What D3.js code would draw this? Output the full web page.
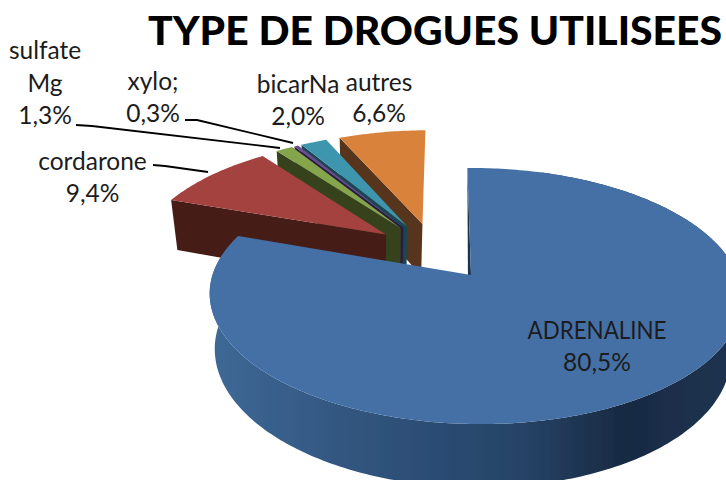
<!DOCTYPE html>
<html><head><meta charset="utf-8">
<script src="https://cdn.jsdelivr.net/npm/d3@7"></script>
<style>html,body{margin:0;padding:0;background:#fff;overflow:hidden}svg{display:block}text{font-family:Lato,"Open Sans",sans-serif;fill:#1c1c1c}</style>
</head><body><div id="c"></div>
<script>
const title = "TYPE DE DROGUES UTILISEES";
const categories = ["ADRENALINE","cordarone","sulfate Mg","xylo;","bicarNa","autres"];
const values = [80.5,9.4,1.3,0.3,2.0,6.6];
const topColors = ["#4470a6","#a4423f","#84a549","#6b4d8f","#3d96ae","#d9823a"];
const wallColors = ["#1c3350","#451a17","#36421d","#2b1f3f","#1a4552","#57341a"];

const W=726,H=480;
const svg=d3.select("#c").append("svg").attr("width",W).attr("height",H);
const defs=svg.append("defs");
defs.append("filter").attr("id","soft").append("feGaussianBlur").attr("stdDeviation",0.45);
const grad=defs.append("linearGradient").attr("id","wall").attr("gradientUnits","userSpaceOnUse")
  .attr("x1",215).attr("x2",726).attr("y1",0).attr("y2",0);
[[0,"#3e6896"],[0.3,"#30537c"],[0.6,"#264367"],[0.8,"#182a42"],[1,"#1d3350"]]
  .forEach(s=>grad.append("stop").attr("offset",s[0]).attr("stop-color",s[1]));

// perspective projection of the pie's plane
const cam={cx:471,cy:275,vp:445,A:262,B:124.6,k:0.164,m:0.015,depth:55,depthPow:0.8,shrink:0.97,vx:379,explode:0.245};
function project(u,v,low){
  const w=1-cam.k*v-cam.m*u;
  const x=cam.vp+(cam.A*u+cam.cx-cam.vp)/w, y=cam.cy+cam.B*v/w;
  if(!low) return [x,y];
  return [cam.vx+cam.shrink*(x-cam.vx), y+cam.depth/Math.pow(w,cam.depthPow)];
}
const pie=d3.pie().sort(null).value(d=>d)(values);
const line=d3.line();
const blueMid=(pie[0].startAngle+pie[0].endAngle)/2;
const origin=[-cam.explode*Math.sin(blueMid),cam.explode*Math.cos(blueMid)];
function slicePts(d){
  const mid=(d.startAngle+d.endAngle)/2;
  const c=[origin[0]+cam.explode*Math.sin(mid),origin[1]-cam.explode*Math.cos(mid)];
  const n=Math.max(4,Math.ceil((d.endAngle-d.startAngle)*60));
  const rim=d3.range(n+1).map(i=>{
    const a=d.startAngle+(d.endAngle-d.startAngle)*i/n;
    return [c[0]+Math.sin(a),c[1]-Math.cos(a)];
  });
  return {c,rim};
}
const marks=svg.append("g").attr("filter","url(#soft)");
// far slices first, main slice last
const order=pie.map((d,i)=>i).reverse();
order.forEach(i=>{
  const {c,rim}=slicePts(pie[i]);
  const g=marks.append("g");
  const topRim=rim.map(p=>project(p[0],p[1],false));
  const e=rim[0];
  if(i===0){
    const lowRim=rim.map(p=>project(p[0],p[1],true)).reverse();
    g.append("path").attr("d",line(topRim.slice(20).concat(lowRim.slice(0,-20)))+"Z").attr("fill","url(#wall)");
    g.append("path").attr("d",line([project(e[0],e[1]),project(c[0],c[1]),project(c[0],c[1],true)])+"Z").attr("fill",wallColors[i]);
  } else {
    g.append("path").attr("d",line([project(e[0],e[1]),project(c[0],c[1]),project(c[0],c[1],true),project(e[0],e[1],true)])+"Z")
      .attr("fill",wallColors[i]);
  }
  g.append("path").attr("d",line([project(c[0],c[1])].concat(topRim))+"Z").attr("fill",topColors[i]);
});

// labels
const labelLayout=[
 {lines:["ADRENALINE","80,5%"],x:597,y:[339,371],fit:[139,null]},
 {lines:["cordarone","9,4%"],x:92.5,y:[170,202]},
 {lines:["sulfate","Mg","1,3%"],x:45,y:[59,92,124]},
 {lines:["xylo;","0,3%"],x:153,y:[90,122]},
 {lines:["bicarNa","2,0%"],x:298,y:[93,125]},
 {lines:["autres","6,6%"],x:379,y:[91,122]}
];
const leaders=[
 [[153,165],[165,166],[208,172]],
 [[76,125],[92,126],[280,148]],
 [[185,120],[197,120],[293,143]]
];
svg.append("g").selectAll("path").data(leaders).join("path")
 .attr("d",d=>line(d)).attr("fill","none").attr("stroke","#000").attr("stroke-width",1.8);
const lg=svg.append("g").attr("font-size",24.5).attr("text-anchor","middle");
labelLayout.forEach(l=>l.lines.forEach((t,i)=>{
  const s=lg.append("text").attr("x",l.x).attr("y",l.y[i]).text(t);
  if(l.fit&&l.fit[i]) s.attr("textLength",l.fit[i]).attr("lengthAdjust","spacingAndGlyphs");
}));
svg.append("text").attr("x",148).attr("y",45).attr("font-size",40).attr("font-weight",900)
 .attr("textLength",574).attr("lengthAdjust","spacingAndGlyphs").style("fill","#000").text(title);
</script></body></html>
